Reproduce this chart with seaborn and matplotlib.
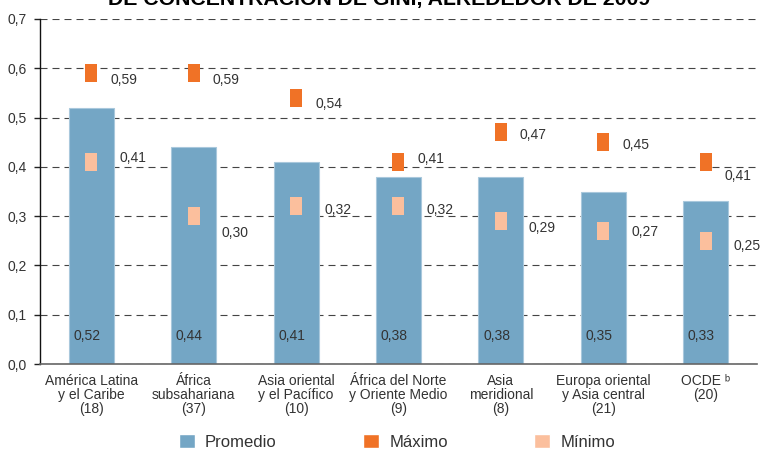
import numpy as np
import seaborn as sns
import matplotlib.pyplot as plt
from matplotlib.patches import Patch
from matplotlib.path import Path
from matplotlib.transforms import ScaledTranslation

# data
regiones = [
    'América Latina\ny el Caribe\n(18)',
    'África\nsubsahariana\n(37)',
    'Asia oriental\ny el Pacífico\n(10)',
    'África del Norte\ny Oriente Medio\n(9)',
    'Asia\nmeridional\n(8)',
    'Europa oriental\ny Asia central\n(21)',
    'OCDE ᵇ\n(20)',
]
promedio = [0.52, 0.44, 0.41, 0.38, 0.38, 0.35, 0.33]
maximo = [0.59, 0.59, 0.54, 0.41, 0.47, 0.45, 0.41]
minimo = [0.41, 0.30, 0.32, 0.32, 0.29, 0.27, 0.25]

# label nudges (px, down is positive) so the numbers sit like the original
max_dy = [7, 6.5, 6, -3, 3, 3, 14]
min_dy = [-4, 16.5, 4, 4, 7, 1, 5]

C_BAR = '#74a6c5'
C_MAX = '#f07226'
C_MIN = '#fbbf9d'
TXT = '#333333'

sns.set_style('white')
plt.rcParams['font.family'] = ['Liberation Sans', 'DejaVu Sans']

fig = plt.figure(figsize=(7.62, 4.49), dpi=100)
ax = fig.add_axes([40 / 762, 1 - 364 / 449, 717 / 762, 345 / 449])

x = np.arange(len(regiones))
sns.barplot(x=x, y=promedio, color=C_BAR, saturation=1, width=0.44,
            edgecolor='#a9c8dc', linewidth=0.8, ax=ax, zorder=2)

# tall rectangle marker for max / min
rect = Path([(-0.36, -0.5), (0.36, -0.5), (0.36, 0.5), (-0.36, 0.5), (-0.36, -0.5)],
            [Path.MOVETO, Path.LINETO, Path.LINETO, Path.LINETO, Path.CLOSEPOLY])
sns.scatterplot(x=x, y=maximo, marker=rect, s=150, color=C_MAX,
                linewidth=0, ax=ax, zorder=3, legend=False)
sns.scatterplot(x=x, y=minimo, marker=rect, s=150, color=C_MIN,
                linewidth=0, ax=ax, zorder=3, legend=False)

px = 0.72
for i in range(len(regiones)):
    ax.annotate(f'{maximo[i]:.2f}'.replace('.', ','), (x[i], maximo[i]),
                xytext=(19 * px, -max_dy[i] * px), textcoords='offset points',
                ha='left', va='center', fontsize=10, color=TXT, zorder=4)
    ax.annotate(f'{minimo[i]:.2f}'.replace('.', ','), (x[i], minimo[i]),
                xytext=(28 * px, -min_dy[i] * px), textcoords='offset points',
                ha='left', va='center', fontsize=10, color=TXT, zorder=4)
    ax.text(x[i] - 0.175, 0.057, f'{promedio[i]:.2f}'.replace('.', ','),
            ha='left', va='center', fontsize=10, color=TXT, zorder=4)

ax.set_xlim(-0.5, len(regiones) - 0.5)
ax.set_ylim(0, 0.7)
yt = np.arange(0, 0.71, 0.1)
ax.set_yticks(yt)
ax.set_yticklabels([f'{v:.1f}'.replace('.', ',') for v in yt], fontsize=10, color=TXT)
for lab in ax.get_yticklabels():
    lab.set_transform(lab.get_transform() + ScaledTranslation(0, 3 / 100, fig.dpi_scale_trans))

ax.set_xticks(x)
ax.set_xticklabels(regiones, fontsize=10, color=TXT, linespacing=1.0)
ax.set_xticks(np.arange(-0.5, len(regiones)), minor=True)
ax.tick_params(axis='x', which='major', length=0, pad=7)
ax.tick_params(axis='x', which='minor', length=6.5, width=1, color='#666666', direction='out')
ax.tick_params(axis='y', length=4.3, width=1, color='#222222', direction='out', pad=5.5, left=True)

ax.yaxis.grid(True, linestyle=(0, (6.3, 4.5)), color='#444444', linewidth=0.8, zorder=0)
ax.xaxis.grid(False)
ax.set_axisbelow(True)
ax.set_xlabel('')
ax.set_ylabel('')

for s in ['top', 'right']:
    ax.spines[s].set_visible(False)
ax.spines['left'].set_color('#111111')
ax.spines['left'].set_linewidth(1)
ax.spines['bottom'].set_color('#666666')
ax.spines['bottom'].set_linewidth(1.2)

# the title is cut by the top edge in the original, only its lower half shows
fig.text(379 / 762, 1 - 5 / 449, 'DE CONCENTRACIÓN DE GINI, ALREDEDOR DE 2009',
         ha='center', va='baseline', fontsize=15.3, fontweight='bold', color='black')

handles = [Patch(facecolor=C_BAR, label='Promedio'),
           Patch(facecolor=C_MAX, label='Máximo'),
           Patch(facecolor=C_MIN, label='Mínimo')]
fig.legend(handles=handles, loc='center', bbox_to_anchor=(397 / 762, 1 - 442 / 449),
           ncol=3, frameon=False, fontsize=12, handlelength=0.96, handleheight=0.85,
           handletextpad=0.6, columnspacing=5.2, labelcolor=TXT)

fig.savefig('out.png', dpi=100)
